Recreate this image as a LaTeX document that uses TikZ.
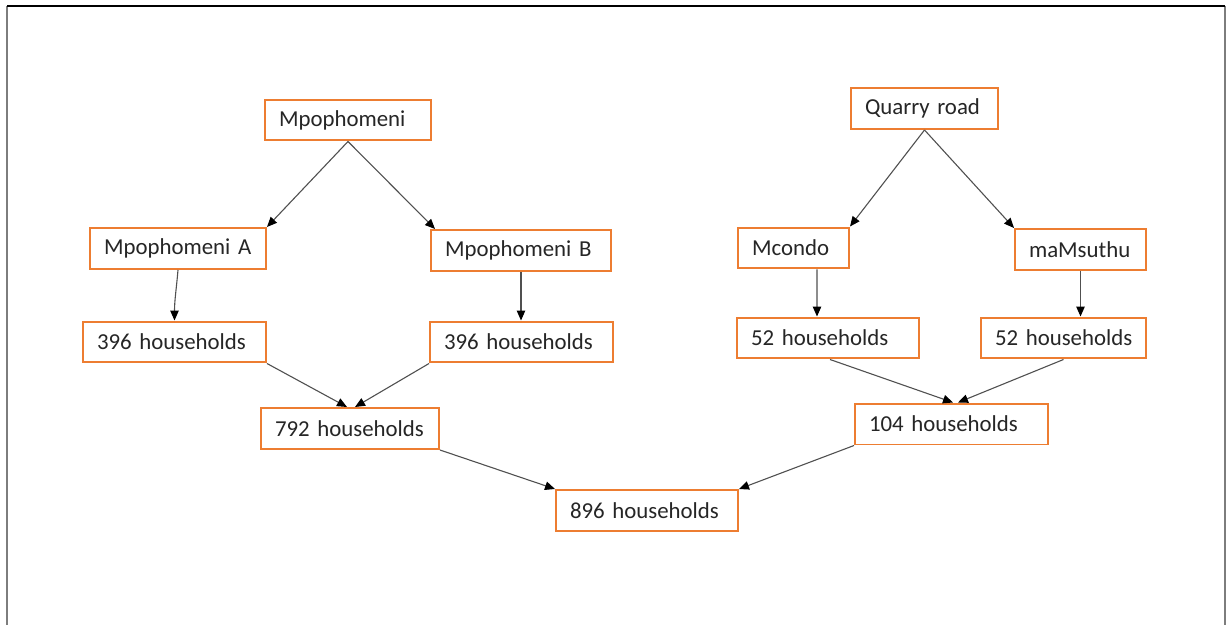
\documentclass[tikz,border=0pt]{standalone}
\usepackage{fontspec}
\setmainfont{Carlito}
\usetikzlibrary{arrows.meta,calc}
\definecolor{boxorange}{RGB}{237,125,49}
\definecolor{linegray}{RGB}{80,80,80}
\definecolor{framegray}{RGB}{125,125,125}
\definecolor{textgray}{RGB}{38,38,38}
\hyphenpenalty=10000
\exhyphenpenalty=10000
\newcommand\lbl[1]{\mbox{#1}}
\begin{document}
\begin{tikzpicture}[x=0.02cm,y=-0.02cm,
  box/.style={draw=boxorange,line width=0.04cm,fill=white,inner xsep=0.28cm,inner ysep=0pt,
    minimum height=0.82cm,align=left,font=\fontsize{13}{15.6}\selectfont,text=textgray},
  conn/.style={draw=linegray,line width=0.022cm,-{Triangle[length=0.2cm,width=0.17cm,color=black]}},
  frametop/.style={draw=black,line width=0.035cm},
  frameside/.style={draw=framegray,line width=0.045cm}]
\useasboundingbox (0,0) rectangle (1227,625);
% frame
\coordinate (ftl) at (7,6);
\coordinate (ftr) at (1225,6);
\coordinate (fbl) at (7,625);
\coordinate (fbr) at (1225,625);
\draw[frameside] (ftl) -- (fbl);
\draw[frameside] (ftr) -- (fbr);
\draw[frametop] (ftl) -- (ftr);
% nodes
\node[box,text width=2.76cm] (mp) at (348,120) {\lbl{Mpophomeni}};
\node[box,text width=2.96cm] (ma) at (178,248.5) {\lbl{Mpophomeni A}};
\node[box,text width=3.04cm] (mb) at (521,250.5) {\lbl{Mpophomeni B}};
\node[box,text width=3.10cm] (l396) at (174.5,342) {\lbl{396 households}};
\node[box,text width=3.10cm] (r396) at (521.5,342) {\lbl{396 households}};
\node[box,text width=3.00cm] (n792) at (350,428.5) {\lbl{792 households}};
\node[box,text width=3.08cm] (n896) at (647,510.5) {\lbl{896 households}};
\node[box,text width=2.38cm] (qr) at (924.5,108.5) {\lbl{Quarry road}};
\node[box,text width=1.66cm] (mc) at (793.5,248) {\lbl{Mcondo}};
\node[box,text width=2.06cm] (ms) at (1080.5,249.5) {\lbl{maMsuthu}};
\node[box,text width=3.08cm] (l52) at (828,338) {\lbl{52 households}};
\node[box,text width=2.74cm] (r52) at (1063.5,338) {\lbl{52 households}};
\node[box,text width=3.30cm] (n104) at (951.5,424) {\lbl{104 households}};
% connectors
\draw[conn] (mp.south) -- (ma.north east);
\draw[conn] (mp.south) -- ($(mb.north west)+(5,0)$);
\draw[conn] (ma.south) to[out=-95,in=90] (l396.north);
\draw[conn] (mb.south) -- (mb.south |- r396.north);
\draw[conn] (l396.south east) -- ($(n792.north)+(-3,0)$);
\draw[conn] (r396.south west) -- ($(n792.north)+(5,0)$);
\draw[conn] (n792.south east) -- (n896.north west);
\draw[conn] (qr.south) -- (mc.north east);
\draw[conn] (qr.south) -- (ms.north west);
\draw[conn] ($(mc.south)+(23.5,0)$) -- ($(l52.north)+(-11,0)$);
\draw[conn] (ms.south) -- (ms.south |- r52.north);
\draw[conn] ($(l52.south)+(2,0)$) -- ($(n104.north)+(1.5,0)$);
\draw[conn] (r52.south) -- ($(n104.north)+(6.5,0)$);
\draw[conn] (n104.south west) -- (n896.north east);
\end{tikzpicture}
\end{document}
